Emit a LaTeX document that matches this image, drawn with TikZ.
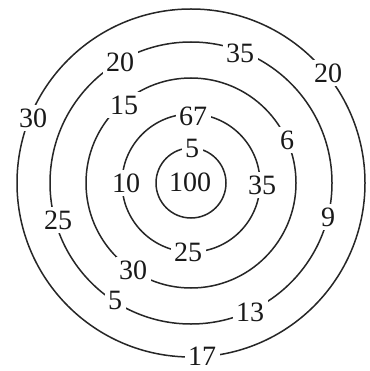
\documentclass[tikz,border=0pt]{standalone}
\usepackage{fontspec}
\setmainfont{Liberation Serif}
\usetikzlibrary{positioning}

\begin{document}
\begin{tikzpicture}[x=1pt, y=-1pt,
    ring/.style={line width=1.5pt, black!85},
    num/.style={fill=white, inner sep=3.5pt, text=black!90,
      font=\fontsize{28}{30}\selectfont}]
  \useasboundingbox[fill=white] (0,0) rectangle (369,371);
  \coordinate (c) at (191,183);
  \foreach \r in {35,69,105,141,174} \draw[ring] (c) circle[radius=\r];
  % centre and first ring
  \node[num] (n100) at (190,182) {100};
  \node[num] (a5) at (192,148) {5};
  % second ring
  \node[num] (b67) at (193,116) {67};
  \node[num] (b10) at (126,183) {10};
  \node[num] (b35) at (262,185) {35};
  \node[num] (b25) at (188,252) {25};
  % third ring
  \node[num] (c15) at (124,105) {15};
  \node[num] (c6) at (287,140) {6};
  \node[num] (c30) at (133,270) {30};
  % fourth ring
  \node[num] (d20) at (120,62) {20};
  \node[num] (d35) at (240,53) {35};
  \node[num] (d25) at (58,220) {25};
  \node[num] (d9) at (328,217) {9};
  \node[num] (d5) at (115,300) {5};
  \node[num] (d13) at (250,312) {13};
  % outer ring
  \node[num] (e30) at (33,118) {30};
  \node[num] (e20) at (328,73) {20};
  \node[num, inner ysep=2pt] (e17) at (202,356) {17};
\end{tikzpicture}
\end{document}
